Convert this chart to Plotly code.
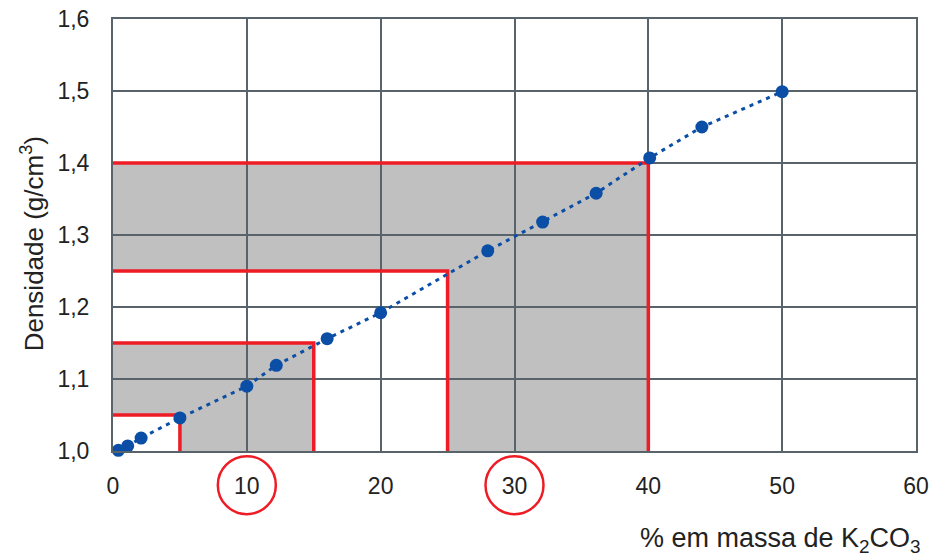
import plotly.graph_objects as go

# Data
mass_pct = [0.4, 1.1, 2.1, 5.0, 10.0, 12.2, 16.0, 20.0, 28.0, 32.1, 36.1, 40.1, 44.0, 50.0]
density = [1.001, 1.007, 1.018, 1.046, 1.090, 1.119, 1.156, 1.192, 1.278, 1.318, 1.358, 1.407, 1.450, 1.499]

# Nested highlight rectangles (right edge in %, top edge in g/cm3); fill alternates gray/white
rect_x = [40, 25, 15, 5]
rect_y = [1.40, 1.25, 1.15, 1.05]

circled_ticks = [10, 30]

x_ticks = [0, 10, 20, 30, 40, 50, 60]
y_ticks = [1.0, 1.1, 1.2, 1.3, 1.4, 1.5, 1.6]

BLUE = "#0a4ea6"
RED = "#ee1c25"
GRID = "#59636a"
GRAY = "#c0c0c0"
Y0 = y_ticks[0]

fig = go.Figure()
fig.add_trace(go.Scatter(
    x=mass_pct, y=density, mode="lines+markers",
    line=dict(color=BLUE, width=3, dash="4px,5px"),
    marker=dict(color=BLUE, size=13),
    showlegend=False, cliponaxis=False, hoverinfo="skip",
))

shapes = []
# gray L-shaped bands: outer rect minus the next (inner) rect
for i in range(0, len(rect_x), 2):
    ox, oy = rect_x[i], rect_y[i]
    ix, iy = rect_x[i + 1], rect_y[i + 1]
    shapes.append(dict(type="path", xref="x", yref="y",
                       path=f"M 0 {iy} L 0 {oy} L {ox} {oy} L {ox} {Y0} L {ix} {Y0} L {ix} {iy} Z",
                       fillcolor=GRAY, line=dict(width=0), layer="below"))
for rx, ry in zip(rect_x, rect_y):
    shapes.append(dict(type="path", xref="x", yref="y",
                       path=f"M 0 {ry} L {rx} {ry} L {rx} {Y0}",
                       line=dict(color=RED, width=3.5), layer="between"))
for t in circled_ticks:
    shapes.append(dict(type="circle", xref="x", yref="paper",
                       xsizemode="pixel", ysizemode="pixel",
                       xanchor=t, yanchor=-0.079,
                       x0=-29, x1=29, y0=-29, y1=29,
                       line=dict(color=RED, width=2.5), layer="above"))

fig.update_layout(
    width=930, height=557,
    margin=dict(l=113, r=14, t=19, b=106, autoexpand=False),
    paper_bgcolor="white", plot_bgcolor="white",
    separators=",.",
    font=dict(family="Liberation Sans, Arial, sans-serif", size=23, color="#222222"),
    shapes=shapes,
    xaxis=dict(range=[0, 60], tickvals=x_ticks, showgrid=True, gridcolor=GRID, gridwidth=2,
               showline=True, linecolor=GRID, linewidth=2, mirror=True, zeroline=False,
               ticks="", ticklabelstandoff=13, fixedrange=True, automargin=False),
    yaxis=dict(range=[1.0, 1.6], tickvals=y_ticks, tickformat=".1f", showgrid=True,
               gridcolor=GRID, gridwidth=2, showline=True, linecolor=GRID, linewidth=2,
               mirror=True, zeroline=False, ticks="", ticklabelstandoff=17, fixedrange=True,
               automargin=False),
    annotations=[
        dict(text="% em massa de K<sub>2</sub>CO<sub>3</sub>", xref="paper", yref="paper",
             x=1, y=-0.205, xanchor="right", yanchor="middle", xshift=7, showarrow=False,
             font=dict(size=27)),
        dict(text="Densidade (g/cm<sup>3</sup>)", xref="paper", yref="paper",
             x=-0.1, y=0.48, xanchor="center", yanchor="middle", textangle=-90,
             showarrow=False, font=dict(size=26)),
    ],
)

fig.write_html("out.html", config={"displayModeBar": False},
               post_script="document.body.style.margin='0';document.body.style.overflow='hidden';")
